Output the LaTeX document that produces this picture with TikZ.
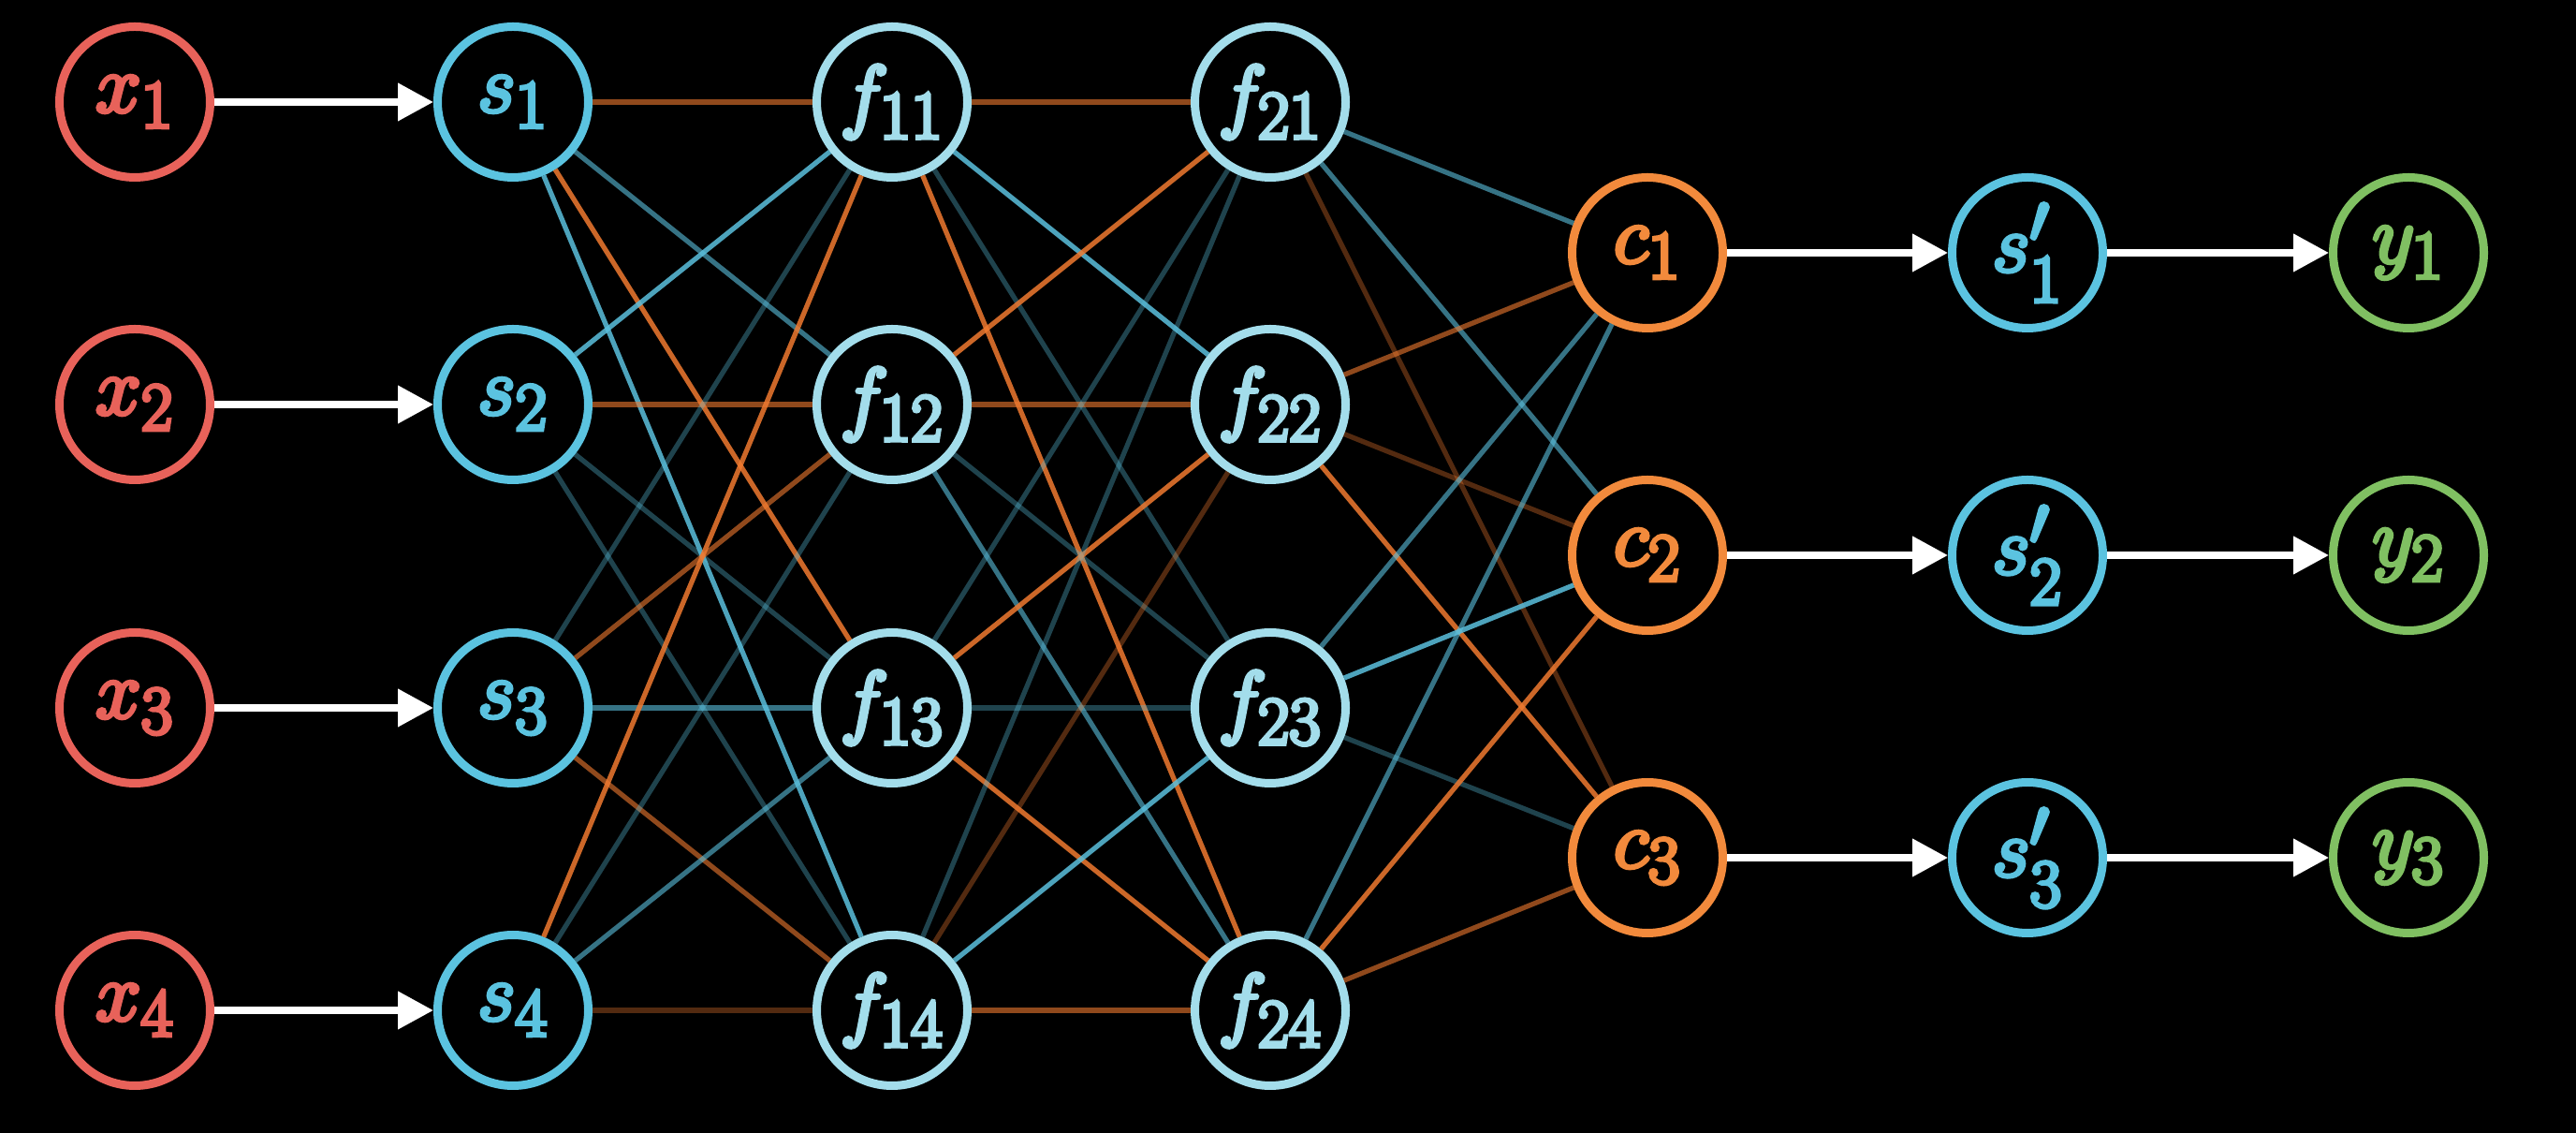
\documentclass[tikz,border=0pt]{standalone}
\usepackage{amsmath,amssymb}
\usepackage{tikz}
\usetikzlibrary{arrows.meta}

\definecolor{xred}{HTML}{E8625A}
\definecolor{sblue}{HTML}{5BC3E0}
\definecolor{fblue}{HTML}{A3DDEB}
\definecolor{corange}{HTML}{F28A3C}
\definecolor{ygreen}{HTML}{80C062}
\definecolor{eorange}{HTML}{F07A30}
\definecolor{eblue}{HTML}{5BC0DE}

% heavier glyph outline
\newcommand{\heavy}[1]{\special{pdf:literal direct 2 Tr 1.2 w}#1\special{pdf:literal direct 0 Tr}}

\tikzset{
  neuron/.style={circle,draw=#1,text=#1,fill=black,line width=0.09cm,
    minimum size=1.61cm,inner sep=0pt,font=\fontsize{31}{37}\selectfont},
  feed/.style={white,line width=0.075cm,-{Triangle[length=0.38cm,width=0.39cm]}},
  os/.style={eorange,line width=1.5pt,opacity=0.85},
  om/.style={eorange,line width=1.5pt,opacity=0.6},
  ow/.style={eorange,line width=1.5pt,opacity=0.35},
  bs/.style={eblue,line width=1.5pt,opacity=0.85},
  bm/.style={eblue,line width=1.5pt,opacity=0.6},
  bw/.style={eblue,line width=1.5pt,opacity=0.35}
}

\begin{document}
\begin{tikzpicture}
\fill[black] (0,0) rectangle (27.52,12.10);
\useasboundingbox (0,0) rectangle (27.52,12.10);

% inputs and first layer
\node[neuron=xred] (x1) at (1.44,11.01) {\heavy{$x_1$}};
\node[neuron=xred] (x2) at (1.44,7.78) {\heavy{$x_2$}};
\node[neuron=xred] (x3) at (1.44,4.54) {\heavy{$x_3$}};
\node[neuron=xred] (x4) at (1.44,1.31) {\heavy{$x_4$}};
\node[neuron=sblue] (s1) at (5.48,11.01) {\heavy{$s_1$}};
\node[neuron=sblue] (s2) at (5.48,7.78) {\heavy{$s_2$}};
\node[neuron=sblue] (s3) at (5.48,4.54) {\heavy{$s_3$}};
\node[neuron=sblue] (s4) at (5.48,1.31) {\heavy{$s_4$}};

% hidden layers
\node[neuron=fblue] (f11) at (9.53,11.01) {\heavy{$f_{11}$}};
\node[neuron=fblue] (f12) at (9.53,7.78) {\heavy{$f_{12}$}};
\node[neuron=fblue] (f13) at (9.53,4.54) {\heavy{$f_{13}$}};
\node[neuron=fblue] (f14) at (9.53,1.31) {\heavy{$f_{14}$}};
\node[neuron=fblue] (f21) at (13.57,11.01) {\heavy{$f_{21}$}};
\node[neuron=fblue] (f22) at (13.57,7.78) {\heavy{$f_{22}$}};
\node[neuron=fblue] (f23) at (13.57,4.54) {\heavy{$f_{23}$}};
\node[neuron=fblue] (f24) at (13.57,1.31) {\heavy{$f_{24}$}};

% outputs
\node[neuron=corange] (c1) at (17.60,9.40) {\heavy{$c_1$}};
\node[neuron=corange] (c2) at (17.60,6.17) {\heavy{$c_2$}};
\node[neuron=corange] (c3) at (17.60,2.94) {\heavy{$c_3$}};
\node[neuron=sblue] (t1) at (21.66,9.40) {\heavy{$s'_1$}};
\node[neuron=sblue] (t2) at (21.66,6.17) {\heavy{$s'_2$}};
\node[neuron=sblue] (t3) at (21.66,2.94) {\heavy{$s'_3$}};
\node[neuron=ygreen] (y1) at (25.73,9.40) {\heavy{$y_1$}};
\node[neuron=ygreen] (y2) at (25.73,6.17) {\heavy{$y_2$}};
\node[neuron=ygreen] (y3) at (25.73,2.94) {\heavy{$y_3$}};

% weights
\foreach \a/\b/\w in {s1/f11/om,s1/f12/bm,s1/f13/os,s1/f14/bs,
  s2/f11/bs,s2/f12/om,s2/f13/bw,s2/f14/bw,
  s3/f11/bw,s3/f12/om,s3/f13/bm,s3/f14/om,
  s4/f11/os,s4/f12/bw,s4/f13/bm,s4/f14/ow,
  f11/f21/om,f11/f22/bs,f11/f23/bw,f11/f24/os,
  f12/f21/os,f12/f22/om,f12/f23/bw,f12/f24/bm,
  f13/f21/bw,f13/f22/os,f13/f23/bw,f13/f24/os,
  f14/f21/bw,f14/f22/ow,f14/f23/bs,f14/f24/om,
  f21/c1/bm,f21/c2/bm,f21/c3/ow,
  f22/c1/om,f22/c2/ow,f22/c3/os,
  f23/c1/bm,f23/c2/bs,f23/c3/bw,
  f24/c1/bm,f24/c2/os,f24/c3/om}
  \draw[\w] (\a) -- (\b);

% feed arrows
\foreach \i in {1,2,3,4}
  \draw[feed] (x\i) -- (s\i);
\foreach \i in {1,2,3} {
  \draw[feed] (c\i) -- (t\i);
  \draw[feed] (t\i) -- (y\i);
}
\end{tikzpicture}
\end{document}
